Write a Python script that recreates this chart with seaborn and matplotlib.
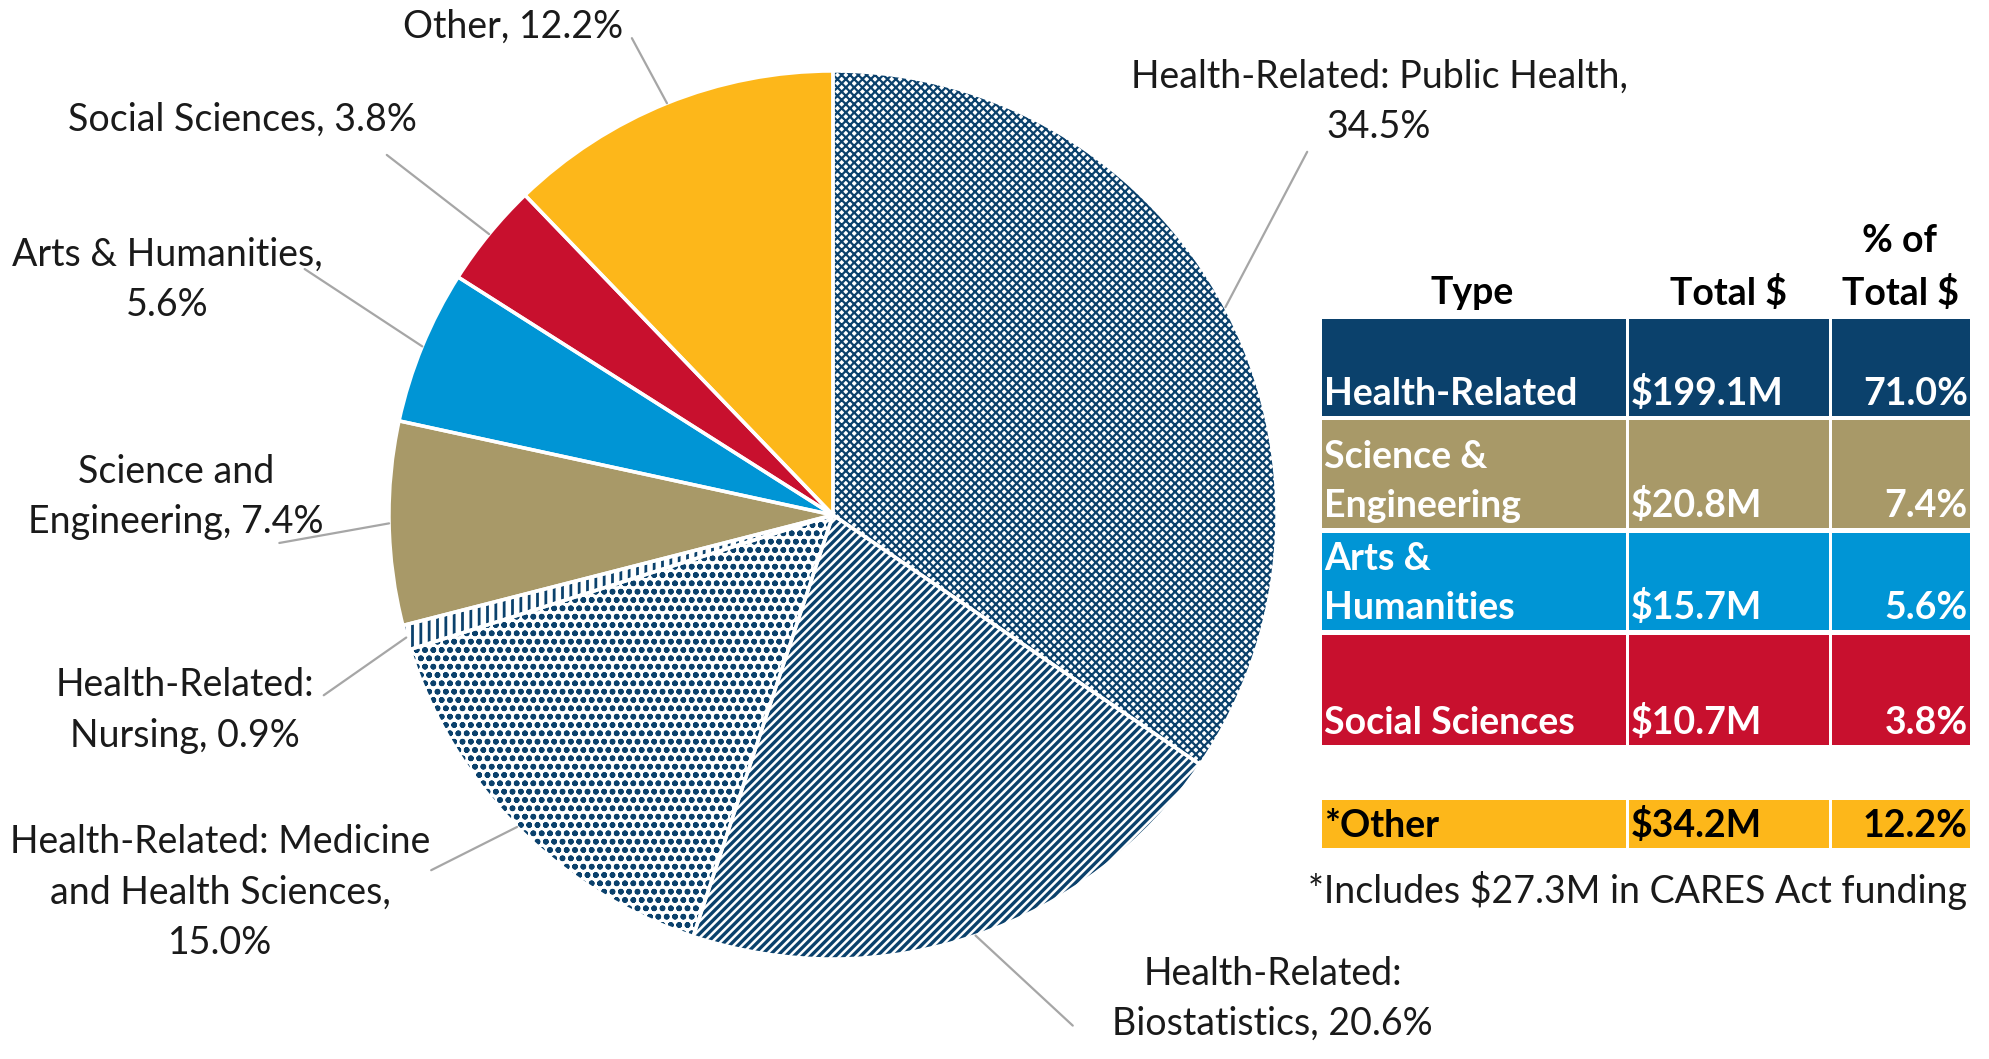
import numpy as np
import matplotlib
matplotlib.use("Agg")
import matplotlib.pyplot as plt
import seaborn as sns
from matplotlib.patches import Rectangle

# pie data (clockwise from 12 o'clock)
categories = ["Health-Related: Public Health", "Health-Related: Biostatistics",
              "Health-Related: Medicine and Health Sciences", "Health-Related: Nursing",
              "Science and Engineering", "Arts & Humanities", "Social Sciences", "Other"]
shares = [34.5, 20.6, 15.0, 0.9, 7.4, 5.6, 3.8, 12.2]
label_fmt = ["Health-Related: Public Health,\n{:.1f}%",
             "Health-Related:\nBiostatistics, {:.1f}%",
             "Health-Related: Medicine\nand Health Sciences,\n{:.1f}%",
             "Health-Related:\nNursing, {:.1f}%",
             "Science and\nEngineering, {:.1f}%",
             "Arts & Humanities,\n{:.1f}%",
             "Social Sciences, {:.1f}%",
             "Other, {:.1f}%"]

# summary table
table_types = ["Health-Related", "Science &\nEngineering", "Arts &\nHumanities", "Social Sciences"]
table_totals = ["$199.1M", "$20.8M", "$15.7M", "$10.7M"]
table_pcts = [71.0, 7.4, 5.6, 3.8]
other_type = "*Other"
other_total = "$34.2M"
other_pct = 12.2
footnote = "*Includes $27.3M in CARES Act funding"

NAVY = "#0B416C"
TAN = "#A89968"
BLUE = "#0095D5"
RED = "#C8102E"
GOLD = "#FDB71A"

face_colors = ["white", "white", "white", "white", TAN, BLUE, RED, GOLD]
hatches = ["xxxx", "////", "oo", "||", None, None, None, None]
hatch_lw = [1.6, 2.4, 1.7, 2.0, 1, 1, 1, 1]

# label placement (pie radius = 1)
label_pos = [(1.23, 0.93), (0.99, -1.09), (-1.38, -0.85), (-1.46, -0.44),
             (-1.48, 0.04), (-1.50, 0.53), (-1.33, 0.89), (-0.72, 1.10)]
leader_start = [(1.068, 0.818), (0.54, -1.15), (-0.905, -0.80), (-1.147, -0.406),
                (-1.247, -0.063), (-1.19, 0.554), (-1.005, 0.811), (-0.453, 1.074)]

sns.set_theme(style="white")
plt.rcParams["font.family"] = ["Lato", "DejaVu Sans"]
plt.rcParams["hatch.linewidth"] = 2.0

W, H = 1990, 1059
fig = plt.figure(figsize=(W / 100, H / 100), dpi=100)
fig.patch.set_facecolor("white")

cx, cy, R = 833, 515, 444
ax = fig.add_axes([0, 0, 1, 1])
wedges, _ = ax.pie(shares, colors=face_colors, startangle=90, counterclock=False,
                   radius=1, wedgeprops=dict(linewidth=0))
for w, h, hl in zip(wedges, hatches, hatch_lw):
    if h:
        w.set_hatch(h)
        w.set_edgecolor(NAVY)
        if hasattr(w, "set_hatch_linewidth"):
            w.set_hatch_linewidth(hl)
ax.pie(shares, startangle=90, counterclock=False, radius=1,
       wedgeprops=dict(linewidth=2.5, edgecolor="white", fill=False))
ax.set_xlim(-cx / R, (W - cx) / R)
ax.set_ylim(-(H - cy) / R, cy / R)
ax.axis("off")

fs = 27
for w, share, fmt, pos, st in zip(wedges, shares, label_fmt, label_pos, leader_start):
    mid = np.deg2rad((w.theta1 + w.theta2) / 2)
    ax.plot([st[0], np.cos(mid)], [st[1], np.sin(mid)], color="#A6A6A6", lw=1.6, zorder=5)
    ax.text(pos[0], pos[1], fmt.format(share), ha="center", va="center",
            fontsize=fs, color="#1a1a1a", linespacing=1.5)

# table in pixel coordinates
tax = fig.add_axes([0, 0, 1, 1])
tax.set_xlim(0, W)
tax.set_ylim(H, 0)
tax.axis("off")

col_edges = [(1322, 1626), (1629, 1829), (1832, 1970)]
row_edges = [(319, 416), (420, 528), (533, 630), (635, 745)]
row_colors = [NAVY, TAN, BLUE, RED]

tfs = 27
tax.text(1472, 293, "Type", ha="center", va="center", fontsize=tfs, fontweight="bold", color="black")
tax.text(1728, 293, "Total $", ha="center", va="center", fontsize=tfs, fontweight="bold", color="black")
tax.text(1900, 241, "% of", ha="center", va="center", fontsize=tfs, fontweight="bold", color="black")
tax.text(1900, 293, "Total $", ha="center", va="center", fontsize=tfs, fontweight="bold", color="black")


def draw_row(y0, y1, color, cells, txt_color="white"):
    for (x0, x1), txt, align in zip(col_edges, cells, ["left", "left", "right"]):
        tax.add_patch(Rectangle((x0, y0), x1 - x0, y1 - y0, facecolor=color, edgecolor="none"))
        tx = x0 + 2 if align == "left" else x1 - 2
        tax.text(tx, y1 - 5, txt, ha=align, va="bottom", fontsize=tfs,
                 fontweight="bold", color=txt_color, linespacing=1.55)


for (y0, y1), c, t, tot, p in zip(row_edges, row_colors, table_types, table_totals, table_pcts):
    draw_row(y0, y1, c, [t, tot, f"{p:.1f}%"])

draw_row(800, 848, GOLD, [other_type, other_total, f"{other_pct:.1f}%"], txt_color="black")

tax.text(1637, 890, footnote, ha="center", va="center", fontsize=fs, color="#1a1a1a")

fig.savefig("out.png", dpi=100, facecolor="white")
